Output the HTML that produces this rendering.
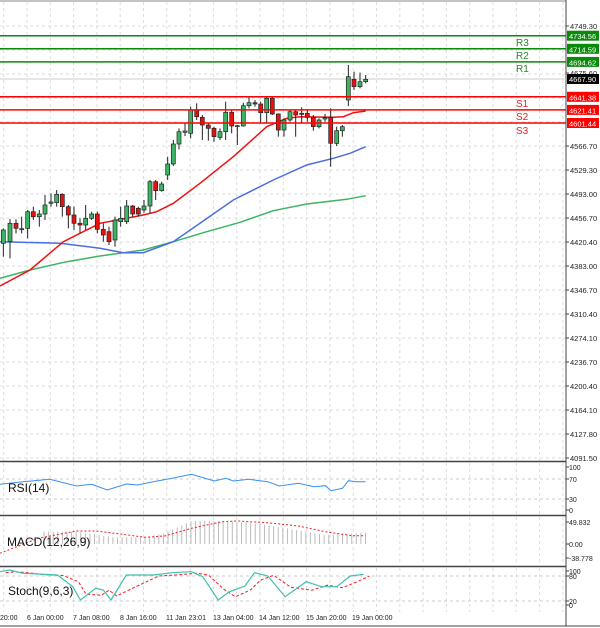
<!DOCTYPE html>
<html><head><meta charset="utf-8"><style>
html,body{margin:0;padding:0;background:#fff;}
svg{display:block;font-family:"Liberation Sans",sans-serif;}
</style></head><body>
<svg id="s" width="600" height="628" xmlns="http://www.w3.org/2000/svg"></svg>
<script>
var s=document.getElementById('s'),h='';
function L(x1,y1,x2,y2,c,w,d){h+='<line x1="'+x1+'" y1="'+y1+'" x2="'+x2+'" y2="'+y2+'" stroke="'+c+'" stroke-width="'+(w||1)+'"'+(d?' stroke-dasharray="'+d+'"':'')+'/>';}
function T(x,y,t,sz,c,a){h+='<text x="'+x+'" y="'+y+'" font-size="'+sz+'" fill="'+(c||'#000')+'"'+(a?' text-anchor="'+a+'"':'')+'>'+t+'</text>';}
function P(pts,c,w,d){h+='<polyline fill="none" points="'+pts.map(function(p){return p[0].toFixed(1)+','+p[1].toFixed(1)}).join(' ')+'" stroke="'+c+'" stroke-width="'+(w||1)+'"'+(d?' stroke-dasharray="'+d+'"':'')+'/>';}
var RX=566;
for(var x=3.7;x<RX;x+=23.3){L(x,2,x,461,'#ddd',1,'3,3');L(x,463,x,514,'#ddd',1,'3,3');L(x,517,x,565,'#ddd',1,'3,3');L(x,568,x,612,'#ddd',1,'3,3');}
for(var y=26;y<460;y+=24)L(0,y,RX,y,'#ddd',1,'3,3');
L(0,479,RX,479,'#ccc',1,'3,3');L(0,499,RX,499,'#ccc',1,'3,3');
L(0,576,RX,576,'#ccc',1,'3,3');L(0,601,RX,601,'#ccc',1,'3,3');
L(0,1,RX,1,'#888',1);L(RX,0,RX,626,'#444',1);
L(0,461.5,RX,461.5,'#444',1.5);L(0,515.5,RX,515.5,'#444',1.5);L(0,566.5,RX,566.5,'#444',1.5);L(0,626,600,626,'#444',1);
var pl=[[26,'4749.30'],[146,'4566.70'],[170,'4529.30'],[194,'4493.00'],[218,'4456.70'],[242,'4420.40'],[266,'4383.00'],[290,'4346.70'],[314,'4310.40'],[338,'4274.10'],[362,'4236.70'],[386,'4200.40'],[410,'4164.10'],[434,'4127.80'],[458,'4091.50'],[73,'4675.60']];
pl.forEach(function(p){L(RX,p[0],RX+3,p[0],'#444',1);T(570,p[0]+3,p[1],7.5,'#222');});
L(0,79,RX,79,'#ccc',1);
function z3(a){return a.map(function(p){return [p[0]/3,60+p[1]/3]});}
P(z3([[0,655],[90,630],[200,605],[300,588],[430,570],[520,545],[620,515],[720,487],[820,452],[920,432],[1040,418],[1097,407]]),'#3cb464',1.5);
P(z3([[0,545],[180,550],[300,565],[370,578],[430,578],[520,545],[600,490],[700,420],[820,360],[920,315],[1000,295],[1050,280],[1097,260]]),'#4a6ee0',1.5);
P(z3([[0,678],[90,630],[190,545],[240,520],[300,490],[430,465],[470,455],[520,430],[600,370],[700,290],[800,200],[860,175],[900,170],[1000,172],[1030,170],[1060,158],[1097,153]]),'#f01010',1.5);
var C=[[10,550,510,505,590],[30,545,490,477,595],[48,490,505,478,520],[65,508,506,470,520],[83,505,455,450,535],[100,455,470,440,480],[118,470,462,450,500],[135,462,435,405,480],[153,430,426,400,440],[170,428,403,390,440],[187,403,440,400,470],[205,440,465,435,505],[222,465,490,440,510],[240,490,495,475,520],[257,495,475,435,510],[275,475,462,455,480],[292,462,508,455,520],[310,508,525,490,545],[327,515,545,500,555],[345,540,480,470,560],[362,485,475,440,500],[380,485,438,420,492],[398,438,462,435,470],[415,445,462,440,470],[432,450,438,420,458],[450,438,365,360,460],[467,365,392,360,420],[485,392,372,365,395],[503,345,312,290,360],[520,312,252,240,318],[537,252,215,205,268],[555,217,213,190,228],[572,220,150,140,235],[590,150,170,130,180],[607,172,195,165,240],[625,195,205,190,242],[642,205,230,200,245],[660,232,215,205,240],[677,215,157,125,240],[695,157,198,150,220],[712,198,197,195,255],[730,198,137,128,200],[747,137,128,112,145],[765,128,132,120,140],[782,132,158,125,190],[800,158,115,112,190],[817,115,162,112,165],[835,162,210,160,230],[852,210,180,175,230],[870,180,155,150,185],[887,155,165,150,230],[905,160,162,142,190],[922,160,172,150,185],[940,172,200,165,212],[957,200,180,175,205],[975,177,173,162,185],[992,172,250,145,320],[1010,250,212,200,258],[1027,212,200,195,230],[1045,120,50,15,138],[1062,58,80,35,90],[1080,80,65,38,85],[1097,65,58,45,70]];
C.forEach(function(c){var x=c[0]/3,o=60+c[1]/3,cl=60+c[2]/3,hi=60+c[3]/3,lo=60+c[4]/3;
L(x,hi,x,lo,'#222',1);var t=Math.min(o,cl),b=Math.max(o,cl);if(b-t<1)b=t+1;
h+='<rect x="'+(x-2).toFixed(1)+'" y="'+t.toFixed(1)+'" width="4" height="'+(b-t).toFixed(1)+'" fill="'+(cl<o?'#3cb464':'#e81010')+'" stroke="#222" stroke-width="0.7"/>';});
var lv=[[35.7,'#0a8a0a','4734.56','R3',46],[48.8,'#0a8a0a','4714.59','R2',59],[61.9,'#0a8a0a','4694.62','R1',72],[96.8,'#f00','4641.38','S1',107],[109.9,'#f00','4621.41','S2',120],[123,'#f00','4601.44','S3',134]];
lv.forEach(function(l){L(0,l[0],RX,l[0],l[1],1.5);h+='<rect x="567" y="'+(l[0]-5)+'" width="32" height="10" fill="'+l[1]+'"/>';T(569,l[0]+3.5,l[2],7.5,'#fff');T(516,l[4],l[3],10,l[1]=='#f00'?'#f02020':'#2a8a2a');});
h+='<rect x="567" y="74" width="32" height="10" fill="#000"/>';T(569,82,'4667.90',7.5,'#fff');
function z2(a){return a.map(function(p){return [p[0]/2.613,450+p[1]/3]});}
P(z2([[0,103],[60,95],[130,88],[200,108],[240,103],[280,120],[330,102],[360,105],[400,95],[450,85],[500,73],[560,93],[590,85],[610,93],[650,88],[700,95],[730,108],[780,100],[820,110],[850,107],[865,122],[895,115],[910,92],[930,95],[955,95]]),'#3a90f0',1);
var mt=[[0,300],[115,245],[200,245],[300,262],[380,262],[430,250],[500,213],[560,213],[650,218],[750,235],[850,255],[955,248]];
function interp(a,x){for(var i=1;i<a.length;i++)if(x<=a[i][0]){var t=(x-a[i-1][0])/(a[i][0]-a[i-1][0]);return a[i-1][1]+t*(a[i][1]-a[i-1][1]);}return a[a.length-1][1];}
for(var zx=115;zx<=955;zx+=12){var yy=450+interp(mt,zx)/3;L(zx/2.613,544,zx/2.613,yy,'#bbb',1);}
P(z2([[0,310],[100,265],[200,243],[250,243],[300,250],[380,262],[430,258],[500,235],[580,215],[620,213],[700,218],[780,228],[850,245],[920,257],[955,257]]),'#f02020',1,'2,2');
var st=[[0,365],[25,360],[60,370],[100,372],[150,375],[190,410],[210,450],[250,415],[270,420],[290,450],[330,375],[400,375],[450,368],[500,365],[530,380],[570,450],[600,425],[640,408],[665,368],[700,378],[745,440],[800,395],[840,410],[880,410],[915,378],[950,373]];
P(z2(st.map(function(p,i){var q=st[Math.max(0,i-1)];return [p[0]+15,(p[1]+q[1])/2+3]})),'#f02020',1,'3,2');
P(z2(st),'#40c0b0',1.2);
T(8,492,'RSI(14)',12,'#111');T(7,546,'MACD(12,26,9)',12,'#111');T(8,595,'Stoch(9,6,3)',12,'#111');
[[467,'100'],[479,'70'],[499,'30'],[510,'0'],[522,'49.832'],[544,'0.00'],[558,'-38.778'],[571,'100'],[576,'80'],[601,'20'],[605,'0']].forEach(function(p){L(RX,p[0],RX+3,p[0],'#444',1);T(569,p[0]+3,p[1],7,'#222');});
[[0,'20:00'],[27,'6 Jan 00:00'],[73,'7 Jan 08:00'],[120,'8 Jan 16:00'],[166,'11 Jan 23:01'],[213,'13 Jan 04:00'],[259,'14 Jan 12:00'],[306,'15 Jan 20:00'],[352,'19 Jan 00:00']].forEach(function(p){T(p[0],620,p[1],7,'#222');});
s.innerHTML=h;
</script>
</body></html>
